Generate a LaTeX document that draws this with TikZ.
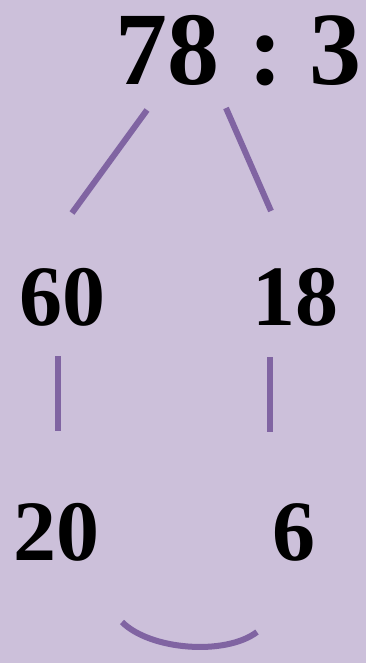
\documentclass[tikz,border=0pt]{standalone}
\usepackage{fontspec}
\setmainfont{Liberation Serif}
\definecolor{bgpurple}{HTML}{CCC0DA}
\definecolor{linepurple}{HTML}{8064A2}
\begin{document}
\begin{tikzpicture}[x=1pt,y=-1pt,
  num/.style={anchor=base,inner sep=0pt,font=\bfseries},
  big/.style={num,anchor=base west,font=\fontsize{104}{110}\selectfont\bfseries},
  mid/.style={num,font=\fontsize{86}{90}\selectfont\bfseries},
  conn/.style={draw=linepurple,line width=6pt}]
\fill[bgpurple] (0,0) rectangle (366,663);
\useasboundingbox (0,0) rectangle (366,663);
\node[big] (top) at (115,85) {78\hspace{29pt}:\hspace{27pt}3};
\node[mid] (a) at (62,325) {60};
\node[mid] (b) at (295.5,325) {18};
\node[mid] (c) at (56,560) {20};
\node[mid] (d) at (293.5,560) {6};
\coordinate (l1s) at (147,110);
\coordinate (l1e) at (72,213);
\coordinate (l2s) at (226,108);
\coordinate (l2e) at (271,211);
\coordinate (v1s) at (58,356);
\coordinate (v1e) at (58,431);
\coordinate (v2s) at (270,357);
\coordinate (v2e) at (270,432);
\coordinate (arcs) at (122,622);
\coordinate (arce) at (257,632);
\draw[conn] (l1s) -- (l1e);
\draw[conn] (l2s) -- (l2e);
\draw[conn] (v1s) -- (v1e);
\draw[conn] (v2s) -- (v2e);
\draw[conn] (arcs) .. controls (150,650) and (225,656) .. (arce);
\end{tikzpicture}
\end{document}
